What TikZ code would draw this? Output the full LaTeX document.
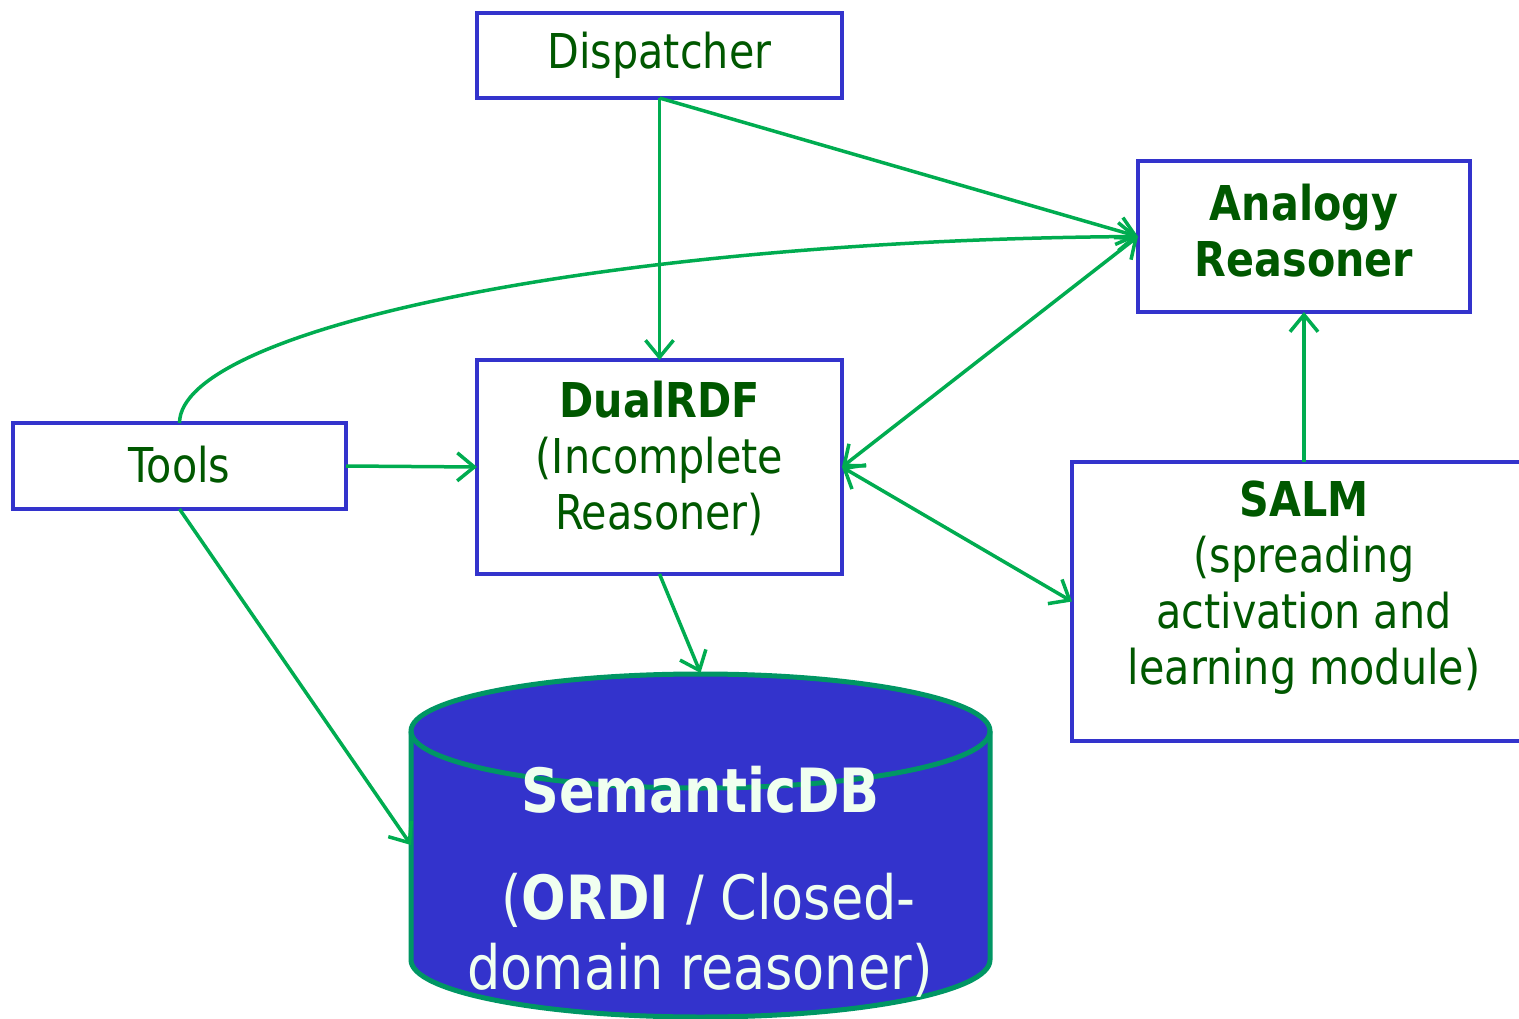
\documentclass[tikz,border=0pt]{standalone}
\usepackage{fontspec}
\setmainfont{DejaVu Sans}[FakeStretch=0.86]
\usetikzlibrary{arrows.meta}
\definecolor{txtgreen}{RGB}{0,88,0}
\definecolor{boxblue}{RGB}{51,51,204}
\definecolor{arrgreen}{RGB}{0,172,80}
\definecolor{dbedge}{RGB}{0,150,100}
\definecolor{dbtext}{RGB}{240,255,240}
\tikzset{
  box/.style={draw=boxblue, line width=4pt, fill=white, inner sep=0pt, outer sep=0pt},
  txt/.style={text=txtgreen, align=center, inner sep=0pt, font=\fontsize{48}{56}\selectfont},
  dbtxt/.style={text=dbtext, align=center, inner sep=0pt, font=\fontsize{61}{70}\selectfont},
  barb/.style={Straight Barb[length=17pt, width=28pt, line width=3.5pt]},
  arr/.style={draw=arrgreen, line width=3.5pt, -{Straight Barb[length=17pt, width=28pt, line width=3.5pt]}},
  darr/.style={draw=arrgreen, line width=3.5pt, {Straight Barb[length=17pt, width=28pt, line width=3.5pt]}-{Straight Barb[length=17pt, width=28pt, line width=3.5pt]}},
}
\begin{document}
\begin{tikzpicture}[x=1pt, y=-1pt]
\useasboundingbox (0,0) rectangle (1519,1019);

% module boxes
\node[box, minimum width=365pt, minimum height=85pt] (disp) at (659.5,55.5) {};
\node[box, minimum width=332pt, minimum height=151pt] (anal) at (1304,236.5) {};
\node[box, minimum width=365pt, minimum height=214pt] (dual) at (659.5,467) {};
\node[box, minimum width=333pt, minimum height=86pt] (tools) at (179.5,466) {};
\node[box, minimum width=464pt, minimum height=279pt] (salm) at (1304,601.5) {};

% semantic database cylinder
\node[inner sep=0pt, outer sep=0pt, minimum width=579pt, minimum height=344pt] (db) at (700.5,845) {};
\path[fill=boxblue, draw=dbedge, line width=5pt]
  (411,731) -- (411,960) arc[start angle=180, end angle=360, x radius=289.5pt, y radius=57pt]
  -- (990,731) arc[start angle=0, end angle=180, x radius=289.5pt, y radius=57pt] -- cycle;
\draw[dbedge, line width=5pt] (411,731) arc[start angle=180, end angle=360, x radius=289.5pt, y radius=57pt];

% labels
\node[txt] (dispt) at (659.5,55) {Dispatcher};
\node[txt] (analt) at (1304,231) {\bfseries Analogy\\\bfseries Reasoner};
\node[txt] (dualt) at (659.5,458) {\bfseries DualRDF\\(Incomplete\\Reasoner)};
\node[txt] (toolst) at (179.5,465) {Tools};
\node[txt] (salmt) at (1304,588) {\bfseries SALM\\(spreading\\activation and\\learning module)};
\node[dbtxt] (dbt1) at (700.5,790) {\bfseries SemanticDB};
\node[dbtxt] (dbt2) at (700,935) {\ (\textbf{ORDI} / Closed-\\domain reasoner)};

% connectors
\draw[arr] (disp.south) -- (dual.north);
\draw[arr] (disp.south) -- (anal.west);
\draw[arr] (tools.north) .. controls (180,330) and (600,240) .. (anal.west);
\draw[darr] (anal.west) -- (dual.east);
\draw[darr] (dual.east) -- (salm.west);
\draw[arr] (salm.north) -- (anal.south);
\draw[arr] (tools.east) -- (dual.west);
\draw[arr] (tools.south) -- (db.west);
\draw[arr] (dual.south) -- (db.north);
\end{tikzpicture}
\end{document}
